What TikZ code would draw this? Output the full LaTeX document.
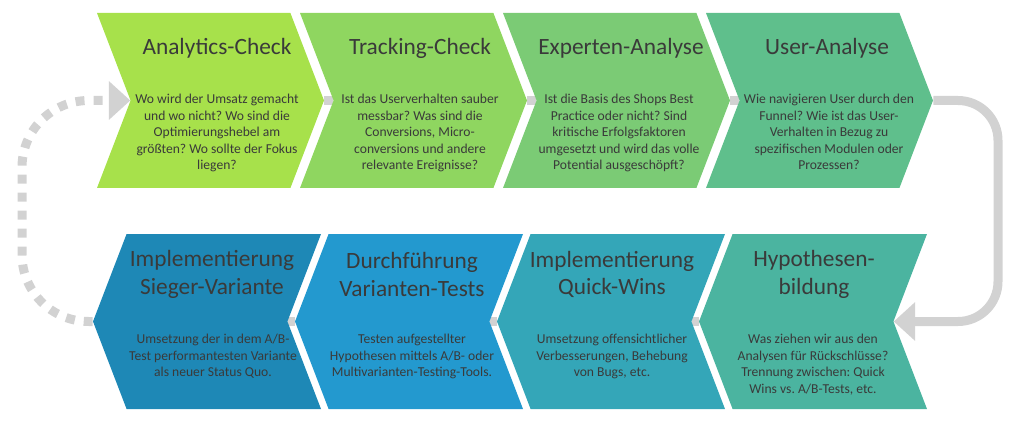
\documentclass[tikz,border=0pt]{standalone}
\usepackage{fontspec}
\setmainfont{Carlito}
\frenchspacing
\usetikzlibrary{shapes.symbols,arrows.meta,backgrounds}

\definecolor{anacol}{HTML}{A7E14B}
\definecolor{trackcol}{HTML}{8FD660}
\definecolor{expertcol}{HTML}{7BCB75}
\definecolor{usercol}{HTML}{5FBF8C}
\definecolor{hypocol}{HTML}{4BB4A0}
\definecolor{quickcol}{HTML}{34A6B8}
\definecolor{testcol}{HTML}{2399CF}
\definecolor{wincol}{HTML}{1E88B6}
\definecolor{linegray}{HTML}{D2D2D2}
\definecolor{txtgray}{HTML}{3A3A3A}

\tikzset{
  chevron/.style={signal, draw=none, inner sep=0pt, minimum height=131.25pt, signal pointer angle=138},
  chevron right/.style={chevron, minimum width=170.25pt, signal to=east, signal from=west},
  chevron left/.style={chevron, minimum width=171pt, signal to=west, signal from=east},
  head/.style={text=txtgray, font=\fontsize{17.5}{20.5}\selectfont, align=center, inner sep=0pt},
  body/.style={text=txtgray, font=\fontsize{10.2}{12.4}\selectfont, align=center, anchor=north, inner sep=0pt},
  flowline/.style={draw=linegray, line width=6.75pt},
}

\begin{document}
\begin{tikzpicture}[x=0.75pt,y=-0.75pt]
  \useasboundingbox (0,0) rectangle (1024,424);

  % top row, left to right
  \node[chevron right, fill=anacol] (ana) at (210.5,100.5) {};
  \node[chevron right, fill=trackcol] (track) at (413.5,100.5) {};
  \node[chevron right, fill=expertcol] (expert) at (616.5,100.5) {};
  \node[chevron right, fill=usercol] (user) at (819.5,100.5) {};

  % bottom row, right to left
  \node[chevron left, fill=hypocol] (hypo) at (813,321.5) {};
  \node[chevron left, fill=quickcol] (quick) at (611,321.5) {};
  \node[chevron left, fill=testcol] (tests) at (409,321.5) {};
  \node[chevron left, fill=wincol] (winner) at (207,321.5) {};

  \begin{scope}[on background layer]
    \draw[flowline] (ana) -- (track);
    \draw[flowline] (track) -- (expert);
    \draw[flowline] (expert) -- (user);
    \draw[flowline] (hypo) -- (quick);
    \draw[flowline] (quick) -- (tests);
    \draw[flowline] (tests) -- (winner);
  \end{scope}

  \draw[flowline, rounded corners=30pt, -{Triangle[length=16pt,width=28pt]}]
    (user.east) -| (998,321.5) -- (hypo.east);
  \draw[flowline, rounded corners=50pt, dash pattern=on 6.75pt off 6.75pt,
    -{Triangle[length=16pt,width=28pt]}]
    (winner.west) -| (22,100.5) -- (ana.west);

  % titles
  \node[head] (ana title) at (217,48) {Analytics-Check};
  \node[head] (track title) at (420,48) {Tracking-Check};
  \node[head] (expert title) at (621,48) {Experten-Analyse};
  \node[head] (user title) at (827,48) {User-Analyse};
  \node[head] (hypo title) at (814,274.5) {Hypothesen-\\bildung};
  \node[head] (quick title) at (612,274.5) {Implementierung\\Quick-Wins};
  \node[head] (tests title) at (412,274.5) {Durchführung\\Varianten-Tests};
  \node[head] (winner title) at (212,274.5) {Implementierung\\Sieger-Variante};

  % descriptions
  \node[body] (ana text) at (217,94) {Wo wird der Umsatz gemacht\\und wo nicht? Wo sind die\\Optimierungshebel am\\größten? Wo sollte der Fokus\\liegen?};
  \node[body] (track text) at (420,94) {Ist das Userverhalten sauber\\messbar? Was sind die\\Conversions, Micro-\\conversions und andere\\relevante Ereignisse?};
  \node[body] (expert text) at (619,94) {Ist die Basis des Shops Best\\Practice oder nicht? Sind\\kritische Erfolgsfaktoren\\umgesetzt und wird das volle\\Potential ausgeschöpft?};
  \node[body] (user text) at (829,94) {Wie navigieren User durch den\\Funnel? Wie ist das User-\\Verhalten in Bezug zu\\spezifischen Modulen oder\\Prozessen?};
  \node[body] (hypo text) at (813,334) {Was ziehen wir aus den\\Analysen für Rückschlüsse?\\Trennung zwischen: Quick\\Wins vs. A/B-Tests, etc.};
  \node[body] (quick text) at (612,334) {Umsetzung offensichtlicher\\Verbesserungen, Behebung\\von Bugs, etc.};
  \node[body] (tests text) at (412,334) {Testen aufgestellter\\Hypothesen mittels A/B- oder\\Multivarianten-Testing-Tools.};
  \node[body] (winner text) at (213,334) {Umsetzung der in dem A/B-\\Test performantesten Variante\\als neuer Status Quo.};
\end{tikzpicture}
\end{document}
